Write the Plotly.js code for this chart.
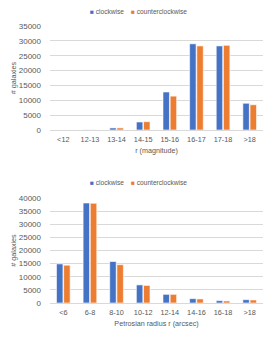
<!DOCTYPE html>
<html>
<head>
<meta charset="utf-8">
<script src="https://cdn.plot.ly/plotly-3.0.1.min.js"></script>
<style>html,body{margin:0;padding:0;background:#fff;}#chart{width:275px;height:344px;}</style>
</head>
<body>
<div id="chart"></div>
<script>
const magCategories = ['<12', '12-13', '13-14', '14-15', '15-16', '16-17', '17-18', '>18'];
const magClockwise = [10, 50, 700, 2700, 12800, 29000, 28300, 9000];
const magCounter = [10, 50, 700, 2800, 11400, 28300, 28500, 8500];

const radCategories = ['<6', '6-8', '8-10', '10-12', '12-14', '14-16', '16-18', '>18'];
const radClockwise = [14900, 38100, 15800, 6900, 3300, 1650, 900, 1270];
const radCounter = [14400, 38000, 14600, 6700, 3300, 1550, 780, 1150];

const seriesNames = ['clockwise', 'counterclockwise'];
const BLUE = '#4472C4', ORANGE = '#ED7D31';
const GRAY = '#595959';
const FONT = 'Liberation Sans, Arial, sans-serif';

function bar(x, y, name, color, xa, ya) {
  return {type: 'bar', x: x, y: y, name: name, xaxis: xa, yaxis: ya, showlegend: false,
    marker: {color: color, line: {color: '#ffffff', width: 0.6}}};
}

const data = [
  bar(magCategories, magClockwise, seriesNames[0], BLUE, 'x', 'y'),
  bar(magCategories, magCounter, seriesNames[1], ORANGE, 'x', 'y'),
  bar(radCategories, radClockwise, seriesNames[0], BLUE, 'x2', 'y2'),
  bar(radCategories, radCounter, seriesNames[1], ORANGE, 'x2', 'y2')
];

const yTickFont = {family: FONT, size: 8, color: GRAY};
const xTickFont = {family: FONT, size: 7.3, color: GRAY};
const titleFont = {family: FONT, size: 7.2, color: GRAY};
const legFont = {family: FONT, size: 6.6, color: GRAY};

function legendAnnots(yPx) {
  const y = 1 - yPx / 344;
  return [
    {xref: 'paper', yref: 'paper', x: 88/275, y: y, xanchor: 'left', yanchor: 'middle', showarrow: false,
     text: '<span style="color:' + BLUE + '">■</span> ' + seriesNames[0], font: legFont},
    {xref: 'paper', yref: 'paper', x: 129/275, y: y, xanchor: 'left', yanchor: 'middle', showarrow: false,
     text: '<span style="color:' + ORANGE + '">■</span> ' + seriesNames[1], font: legFont}
  ];
}

const layout = {
  width: 275, height: 344,
  margin: {l: 0, r: 0, t: 0, b: 0},
  paper_bgcolor: '#ffffff', plot_bgcolor: '#ffffff',
  barmode: 'group', bargap: 0.46, bargroupgap: 0.1,
  showlegend: false,
  annotations: legendAnnots(11).concat(legendAnnots(183)),
  xaxis: {type: 'category', domain: [50/275, 263/275], anchor: 'y', tickfont: xTickFont, showgrid: false,
    showline: true, linecolor: '#D9D9D9', ticks: '', ticklabelstandoff: 2,
    title: {text: 'r (magnitude)', font: titleFont, standoff: 5}},
  yaxis: {domain: [1 - 130/344, 1 - 26/344], anchor: 'x', range: [0, 35000], dtick: 5000, tickformat: 'd',
    tickfont: yTickFont, gridcolor: '#D9D9D9', gridwidth: 1, zeroline: false,
    showline: false, ticks: '', ticklabelstandoff: 8,
    title: {text: '# galaxies', font: titleFont, standoff: 1}},
  xaxis2: {type: 'category', domain: [50/275, 263/275], anchor: 'y2', tickfont: xTickFont, showgrid: false,
    showline: true, linecolor: '#D9D9D9', ticks: '', ticklabelstandoff: 2,
    title: {text: 'Petrosian radius r (arcsec)', font: titleFont, standoff: 5}},
  yaxis2: {domain: [1 - 303/344, 1 - 198/344], anchor: 'x2', range: [0, 40000], dtick: 5000, tickformat: 'd',
    tickfont: yTickFont, gridcolor: '#D9D9D9', gridwidth: 1, zeroline: false,
    showline: false, ticks: '', ticklabelstandoff: 8,
    title: {text: '# galaxies', font: titleFont, standoff: 1}}
};

Plotly.newPlot('chart', data, layout, {displayModeBar: false, staticPlot: true});
</script>
</body>
</html>
